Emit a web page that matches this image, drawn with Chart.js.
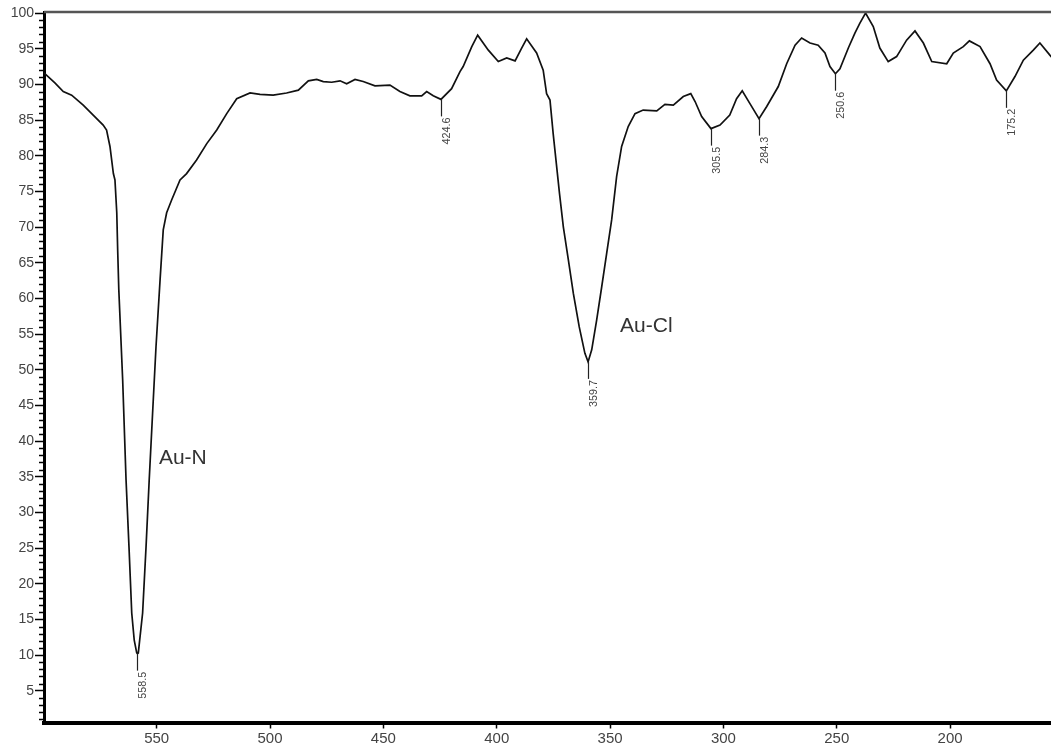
<!DOCTYPE html>
<html>
<head>
<meta charset="utf-8">
<script src="https://cdn.jsdelivr.net/npm/chart.js@4/dist/chart.umd.min.js"></script>
<style>
  html, body { margin: 0; padding: 0; background: #ffffff; }
  #wrap { width: 1051px; height: 747px; position: relative; }
</style>
</head>
<body>
<div id="wrap"><canvas id="c"></canvas></div>
<script>
// ---- Data ----
const wavenumber = [600,594.9,591.2,587.5,582.4,578.0,573.6,572.1,570.6,569.1,568.4,567.6,567.2,566.7,565.0,563.5,562.2,561.0,559.9,558.8,558.5,558.1,556.2,554.7,553.3,551.8,550.3,548.5,547.1,545.6,543.4,539.7,536.8,532.4,527.9,523.5,519.1,514.7,508.8,504.4,498.6,492.7,487.5,483.1,479.4,476.5,472.8,469.1,466.2,462.5,458.9,453.7,447.1,442.7,438.3,433.1,430.9,428.0,424.6,419.9,416.2,414.8,411.0,408.4,403.7,399.3,395.6,391.9,389.0,386.8,382.4,379.5,378.0,376.5,375.1,372.3,370.6,368.4,366.2,363.6,361.1,359.7,358.1,355.9,353.7,351.5,349.3,347.1,344.9,342.0,339.0,335.4,329.4,325.8,322.1,317.7,314.4,312.5,309.6,305.5,301.5,297.2,294.2,291.7,288.3,284.3,280.9,275.8,272.1,268.4,265.5,261.8,258.2,255.2,253.0,250.6,248.6,244.9,242.0,239.8,237.3,233.9,231.0,227.3,223.6,219.2,215.5,211.8,208.1,201.5,198.6,194.2,191.5,186.8,182.4,179.5,175.2,171.4,167.7,163.3,160.4,156.0,154.0];
const transmittance = [91.7,90.2,89.0,88.5,87.1,85.7,84.3,83.6,81.3,77.5,76.6,72.0,66.8,61.2,48.6,34.5,25.1,15.9,12.1,10.3,10.2,10.3,15.9,25.1,34.5,43.9,53.2,62.6,69.6,72.0,73.8,76.6,77.5,79.4,81.7,83.6,85.9,88.0,88.8,88.6,88.5,88.8,89.2,90.5,90.7,90.4,90.3,90.5,90.1,90.7,90.4,89.8,89.9,89.0,88.4,88.4,89.0,88.4,87.9,89.4,91.8,92.5,95.3,96.9,94.8,93.2,93.7,93.3,95.1,96.4,94.4,92.0,88.7,87.8,83.1,74.7,70.0,65.4,60.7,56.0,52.3,51.1,52.8,57.0,61.6,66.3,71.0,77.1,81.3,84.1,85.9,86.4,86.3,87.2,87.1,88.3,88.7,87.6,85.5,83.8,84.3,85.7,88.0,89.1,87.3,85.2,86.9,89.7,92.9,95.5,96.5,95.8,95.5,94.4,92.5,91.5,92.2,95.1,97.2,98.6,100.0,98.1,95.1,93.2,93.9,96.2,97.5,95.8,93.2,92.9,94.4,95.3,96.1,95.3,92.9,90.6,89.1,91.1,93.4,94.8,95.8,94.1,93.4];

const xTickValues = [550,500,450,400,350,300,250,200];
const yTickValues = [5,10,15,20,25,30,35,40,45,50,55,60,65,70,75,80,85,90,95,100];

const peakPositions = [558.5,424.6,359.7,305.5,284.3,250.6,175.2];
const peakDepths    = [10.2,87.9,51.1,83.8,85.2,91.5,89.1];
const peakLabels    = ["558.5","424.6","359.7","305.5","284.3","250.6","175.2"];

const bandNames = ["Au-N","Au-Cl"];
const bandX     = [549.0,345.6];
const bandY     = [37.6,56.1];

// ---- Plugins drawing via the chart's own scales ----
const decorPlugin = {
  id: 'decor',
  afterDatasetsDraw(chart) {
    const {ctx, chartArea, scales} = chart;
    const xs = scales.x, ys = scales.y;
    ctx.save();
    // top frame line
    ctx.strokeStyle = '#555';
    ctx.lineWidth = 2.5;
    ctx.beginPath();
    ctx.moveTo(chartArea.left, chartArea.top);
    ctx.lineTo(chartArea.right, chartArea.top);
    ctx.stroke();
    // minor ticks on y axis
    ctx.strokeStyle = '#000';
    ctx.lineWidth = 1.5;
    for (let v = 1; v <= 100; v++) {
      if (v % 5 === 0) continue;
      const py = Math.round(ys.getPixelForValue(v)) + 0.5;
      ctx.beginPath();
      ctx.moveTo(chartArea.left - 5, py);
      ctx.lineTo(chartArea.left, py);
      ctx.stroke();
    }
    // peak markers
    ctx.strokeStyle = '#222';
    ctx.lineWidth = 1.2;
    ctx.fillStyle = '#444';
    ctx.font = '10.8px "Liberation Sans", Arial, sans-serif';
    for (let i = 0; i < peakPositions.length; i++) {
      const px = Math.round(xs.getPixelForValue(peakPositions[i])) + 0.5;
      const py = ys.getPixelForValue(peakDepths[i]);
      ctx.beginPath();
      ctx.moveTo(px, py);
      ctx.lineTo(px, py + 17);
      ctx.stroke();
      ctx.save();
      ctx.translate(px + 6, py + 18);
      ctx.rotate(-Math.PI / 2);
      ctx.textAlign = 'right';
      ctx.textBaseline = 'middle';
      ctx.fillText(peakLabels[i], 0, 0);
      ctx.restore();
    }
    // band names
    ctx.fillStyle = '#333';
    ctx.font = '21px "Liberation Sans", Arial, sans-serif';
    ctx.textAlign = 'left';
    ctx.textBaseline = 'middle';
    for (let i = 0; i < bandNames.length; i++) {
      ctx.fillText(bandNames[i], xs.getPixelForValue(bandX[i]), ys.getPixelForValue(bandY[i]));
    }
    ctx.restore();
  }
};

const points = wavenumber.map((w, i) => ({x: w, y: transmittance[i]}));

new Chart(document.getElementById('c'), {
  type: 'line',
  data: {
    datasets: [{
      data: points,
      borderColor: '#111',
      borderWidth: 1.7,
      pointRadius: 0,
      tension: 0,
      fill: false
    }]
  },
  options: {
    responsive: true,
    maintainAspectRatio: false,
    animation: false,
    events: [],
    layout: { padding: { top: 12, right: 0, left: 0, bottom: 0 } },
    plugins: { legend: { display: false }, tooltip: { enabled: false } },
    scales: {
      x: {
        type: 'linear',
        reverse: true,
        min: 155.5,
        max: 599.7,
        afterBuildTicks(scale) { scale.ticks = xTickValues.map(v => ({value: v})); },
        afterFit(scale) { scale.height = 24.5; },
        ticks: {
          color: '#444',
          font: { size: 15, family: '"Liberation Sans", Arial, sans-serif' },
          padding: 1,
          maxRotation: 0,
          autoSkip: false
        },
        grid: { drawOnChartArea: false, drawTicks: true, tickLength: 6, tickColor: '#000', tickWidth: 1.5 },
        border: { display: true, color: '#000', width: 4 }
      },
      y: {
        type: 'linear',
        min: 0.55,
        max: 100.15,
        afterBuildTicks(scale) { scale.ticks = yTickValues.map(v => ({value: v})); },
        afterFit(scale) { scale.width = 44; },
        ticks: {
          color: '#444',
          font: { size: 14, family: '"Liberation Sans", Arial, sans-serif' },
          padding: 1,
          autoSkip: false
        },
        grid: { drawOnChartArea: false, drawTicks: true, tickLength: 9, tickColor: '#000', tickWidth: 1.5 },
        border: { display: true, color: '#000', width: 3 }
      }
    }
  },
  plugins: [decorPlugin]
});
</script>
</body>
</html>
